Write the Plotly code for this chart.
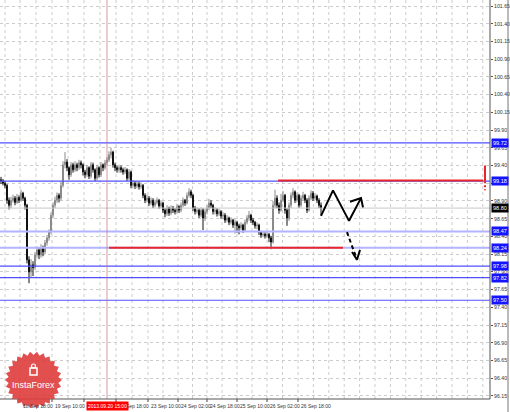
import math
import plotly.graph_objects as go

# hourly bars (oldest first)
close = [
    99.18, 99.15, 99.12, 98.91, 98.84, 98.91, 98.94, 98.88, 98.95, 98.91,
    99.01, 98.94, 98.84, 98.07, 97.90, 98.00, 97.96, 98.14, 98.21, 98.14,
    98.24, 98.18, 98.31, 98.38, 98.46, 98.70, 98.84, 98.91, 98.98, 98.94,
    99.12, 99.41, 99.45, 99.37, 99.27, 99.41, 99.34, 99.41, 99.37, 99.44,
    99.41, 99.31, 99.27, 99.37, 99.25, 99.41, 99.34, 99.22, 99.37, 99.27,
    99.41, 99.37, 99.44, 99.48, 99.55, 99.59, 99.41, 99.37, 99.34, 99.37,
    99.34, 99.31, 99.34, 99.22, 99.31, 99.12, 99.15, 99.11, 99.14, 99.10,
    99.12, 98.98, 98.91, 98.94, 98.87, 98.91, 98.84, 98.88, 98.91, 98.83,
    98.87, 98.77, 98.72, 98.80, 98.73, 98.80, 98.77, 98.75, 98.82, 98.77,
    98.84, 98.91, 98.87, 98.98, 99.03, 98.98, 98.80, 98.75, 98.77, 98.70,
    98.77, 98.66, 98.75, 98.80, 98.87, 98.84, 98.75, 98.77, 98.72, 98.75,
    98.69, 98.70, 98.63, 98.66, 98.60, 98.63, 98.56, 98.60, 98.55, 98.52,
    98.56, 98.49, 98.60, 98.66, 98.70, 98.63, 98.60, 98.55, 98.56, 98.46,
    98.42, 98.43, 98.41, 98.43, 98.38, 98.32, 98.84, 98.94, 98.84, 98.77,
    98.91, 98.98, 98.77, 98.66, 98.84, 98.98, 99.03, 98.91, 98.98, 98.84,
    98.94, 98.98, 98.91, 98.77, 98.94, 99.01, 98.94, 98.97, 98.91, 98.84,
    98.80,
]
high = [
    99.24, 99.21, 99.18, 99.14, 98.95, 98.96, 98.99, 98.97, 99.00, 98.98,
    99.06, 99.03, 98.96, 98.86, 98.12, 98.08, 98.05, 98.18, 98.26, 98.24,
    98.29, 98.27, 98.35, 98.42, 98.50, 98.74, 98.88, 98.96, 99.02, 99.01,
    99.17, 99.46, 99.59, 99.49, 99.39, 99.45, 99.44, 99.46, 99.44, 99.48,
    99.47, 99.43, 99.34, 99.41, 99.39, 99.45, 99.44, 99.36, 99.41, 99.39,
    99.45, 99.43, 99.48, 99.52, 99.60, 99.65, 99.61, 99.44, 99.40, 99.41,
    99.40, 99.37, 99.38, 99.36, 99.35, 99.33, 99.19, 99.18, 99.18, 99.17,
    99.16, 99.14, 99.01, 98.99, 98.97, 98.95, 98.94, 98.92, 98.95, 98.93,
    98.91, 98.89, 98.80, 98.84, 98.82, 98.84, 98.83, 98.80, 98.86, 98.84,
    98.88, 98.95, 98.93, 99.02, 99.08, 99.06, 99.00, 98.83, 98.81, 98.80,
    98.81, 98.80, 98.79, 98.84, 98.93, 98.91, 98.86, 98.81, 98.80, 98.79,
    98.77, 98.74, 98.73, 98.70, 98.68, 98.67, 98.65, 98.64, 98.62, 98.58,
    98.60, 98.58, 98.64, 98.70, 98.76, 98.72, 98.66, 98.62, 98.60, 98.58,
    98.48, 98.47, 98.46, 98.47, 98.45, 98.41, 98.90, 99.06, 98.98, 98.88,
    99.00, 99.04, 99.00, 98.80, 98.88, 99.02, 99.08, 99.05, 99.02, 99.00,
    98.98, 99.03, 99.00, 98.94, 98.98, 99.05, 99.04, 99.01, 98.99, 98.94,
    98.88,
]
low = [
    99.14, 99.12, 99.08, 98.86, 98.78, 98.80, 98.88, 98.84, 98.86, 98.87,
    98.89, 98.90, 98.78, 98.02, 97.74, 97.82, 97.84, 97.93, 98.10, 98.08,
    98.10, 98.12, 98.15, 98.27, 98.34, 98.43, 98.66, 98.80, 98.87, 98.88,
    98.91, 99.09, 99.36, 99.32, 99.20, 99.24, 99.30, 99.31, 99.32, 99.34,
    99.36, 99.26, 99.22, 99.24, 99.21, 99.22, 99.30, 99.18, 99.19, 99.23,
    99.24, 99.32, 99.34, 99.40, 99.45, 99.50, 99.37, 99.32, 99.30, 99.30,
    99.30, 99.27, 99.28, 99.18, 99.19, 99.08, 99.09, 99.07, 99.08, 99.06,
    99.07, 98.94, 98.87, 98.88, 98.83, 98.84, 98.80, 98.81, 98.85, 98.79,
    98.80, 98.73, 98.67, 98.69, 98.69, 98.70, 98.73, 98.71, 98.72, 98.73,
    98.74, 98.81, 98.83, 98.85, 98.95, 98.94, 98.76, 98.71, 98.72, 98.66,
    98.67, 98.49, 98.62, 98.71, 98.77, 98.80, 98.71, 98.71, 98.68, 98.69,
    98.65, 98.64, 98.59, 98.60, 98.56, 98.57, 98.52, 98.44, 98.45, 98.43,
    98.49, 98.45, 98.47, 98.57, 98.62, 98.59, 98.56, 98.51, 98.50, 98.42,
    98.38, 98.39, 98.37, 98.38, 98.32, 98.22, 98.30, 98.80, 98.80, 98.72,
    98.75, 98.88, 98.72, 98.55, 98.62, 98.80, 98.94, 98.87, 98.88, 98.80,
    98.81, 98.90, 98.87, 98.73, 98.75, 98.91, 98.90, 98.91, 98.87, 98.80,
    98.70,
]
first_open = 99.20
open_ = [first_open] + close[:-1]
bars = list(range(len(close)))

# horizontal levels drawn on the chart
strong_levels = [99.72, 99.18, 97.98, 97.82, 97.50]
weak_levels = [98.47, 98.24]
level_labels = ["99.72", "99.18", "98.47", "98.24", "97.98", "97.82", "97.50"]
level_values = [99.72, 99.18, 98.47, 98.24, 97.98, 97.82, 97.50]
current_price = 98.80

# red target lines: (price, from bar, to bar)
red_upper = (99.19, 138.5, 241)
red_lower = (98.24, 54, 171)
red_marker_bar = 242
red_marker_solid = [99.40, 99.18]
red_marker_dot = [99.18, 99.05]

# forecast zigzags
solid_x = [160, 166, 174, 180]
solid_y = [98.69, 99.05, 98.62, 98.94]
solid_head_x = [174.5, 180, 181]
solid_head_y = [98.89, 98.94, 98.81]
dash_x = [173, 178]
dash_y = [98.46, 98.07]
dash_head_x = [175.5, 178, 179.5]
dash_head_y = [98.18, 98.07, 98.21]

cursor_bar = 53
cursor_label = "2013.09.20 15:00"

# axes
price_ticks = [96.15, 96.40, 96.65, 96.90, 97.15, 97.40, 97.65, 97.90, 98.15,
               98.40, 98.65, 98.90, 99.15, 99.40, 99.65, 99.90, 100.15, 100.40,
               100.65, 100.90, 101.15, 101.40, 101.65]
time_pos = [-5.5, 9.5, 25.5, 41.5, 57.5, 73.5, 88.5, 103, 118, 133, 148.5]
time_labels = ["18 Sep 02:00", "18 Sep 18:00", "19 Sep 10:00", "20 Sep 02:00",
               "20 Sep 18:00", "23 Sep 10:00", "24 Sep 02:00", "24 Sep 18:00",
               "25 Sep 10:00", "26 Sep 02:00", "26 Sep 18:00"]

W, H = 510, 412
PW, PH = 490, 399
X_RANGE = [-0.5, 244.5]
FONT = "Liberation Sans"

fig = go.Figure()

# level lines as traces underneath the candles
fig.add_trace(go.Scatter(x=X_RANGE, y=[current_price] * 2, mode="lines",
                         line=dict(color="#c8c8c8", width=1), showlegend=False, hoverinfo="skip"))
for lv in weak_levels:
    fig.add_trace(go.Scatter(x=X_RANGE, y=[lv, lv], mode="lines",
                             line=dict(color="#b4b4ff", width=2), showlegend=False, hoverinfo="skip"))
for lv in strong_levels:
    fig.add_trace(go.Scatter(x=X_RANGE, y=[lv, lv], mode="lines",
                             line=dict(color="#5050ff", width=1.2), showlegend=False, hoverinfo="skip"))

fig.add_trace(go.Candlestick(
    x=bars, open=open_, high=high, low=low, close=close,
    increasing=dict(line=dict(color="#8a8a8a", width=1), fillcolor="#ffffff"),
    decreasing=dict(line=dict(color="#111111", width=1), fillcolor="#111111"),
    whiskerwidth=0, showlegend=False, hoverinfo="skip",
))

# forecast lines
fig.add_trace(go.Scatter(x=solid_x, y=solid_y, mode="lines",
                         line=dict(color="black", width=2), showlegend=False))
fig.add_trace(go.Scatter(x=solid_head_x, y=solid_head_y, mode="lines",
                         line=dict(color="black", width=2), showlegend=False))
fig.add_trace(go.Scatter(x=dash_x, y=dash_y, mode="lines",
                         line=dict(color="black", width=2, dash="4px,3px"), showlegend=False))
fig.add_trace(go.Scatter(x=dash_head_x, y=dash_head_y, mode="lines",
                         line=dict(color="black", width=2), showlegend=False))

# red lines
fig.add_trace(go.Scatter(x=[red_upper[1], red_upper[2]], y=[red_upper[0]] * 2, mode="lines",
                         line=dict(color="#e8262b", width=2), showlegend=False))
fig.add_trace(go.Scatter(x=[red_lower[1], red_lower[2]], y=[red_lower[0]] * 2, mode="lines",
                         line=dict(color="#e8262b", width=2), showlegend=False))
fig.add_trace(go.Scatter(x=[red_marker_bar] * 2, y=red_marker_solid, mode="lines",
                         line=dict(color="#e8262b", width=2), showlegend=False))
fig.add_trace(go.Scatter(x=[red_marker_bar] * 2, y=red_marker_dot, mode="lines",
                         line=dict(color="#e8262b", width=2, dash="2px,2px"), showlegend=False))

shapes = []
# grid verticals (between labelled ticks too)
grid_x = []
for i, p in enumerate(time_pos):
    grid_x.append(p)
    if i + 1 < len(time_pos):
        grid_x.append((p + time_pos[i + 1]) / 2)
p = time_pos[-1]
step = (time_pos[-1] - time_pos[0]) / (len(time_pos) - 1) / 2
while p + step < 244:
    p += step
    grid_x.append(p)
for gx in grid_x:
    shapes.append(dict(type="line", xref="x", yref="paper", x0=gx, x1=gx, y0=0, y1=1,
                       line=dict(color="#cccccc", width=1, dash="dot"), layer="below"))
# small ticks under time labels
for tx in time_pos:
    shapes.append(dict(type="line", xref="x", yref="paper", x0=tx, x1=tx, y0=0, y1=-3 / PH,
                       line=dict(color="#444", width=1)))
# cursor
shapes.append(dict(type="line", xref="x", yref="paper", x0=cursor_bar, x1=cursor_bar, y0=0, y1=1,
                   line=dict(color="rgba(200,110,120,0.7)", width=1)))
# window frame
shapes.append(dict(type="line", xref="paper", yref="paper", x0=0, x1=1, y0=0, y1=0,
                   line=dict(color="#555", width=1)))
shapes.append(dict(type="line", xref="paper", yref="paper", x0=1, x1=1, y0=0, y1=1,
                   line=dict(color="#555", width=1)))
shapes.append(dict(type="line", xref="paper", yref="paper", x0=508 / PW, x1=508 / PW,
                   y0=-13 / PH, y1=1, line=dict(color="#777", width=1)))

# logo star
cx, cy, r_out, r_in, spikes = 33.5, 380, 28.5, 25, 26
pts = []
for k in range(spikes * 2):
    a = math.pi * k / spikes
    r = r_out if k % 2 == 0 else r_in
    px = cx + r * math.cos(a)
    py = cy + r * math.sin(a)
    pts.append((px / PW, (PH - py) / PH))
path = "M " + " L ".join(f"{x:.4f},{y:.4f}" for x, y in pts) + " Z"
shapes.append(dict(type="path", xref="paper", yref="paper", path=path,
                   fillcolor="rgba(222,60,60,0.9)", line=dict(width=0)))
# small icon in logo
shapes.append(dict(type="rect", xref="paper", yref="paper",
                   x0=(cx - 3.5) / PW, x1=(cx + 3.5) / PW,
                   y0=(PH - 375) / PH, y1=(PH - 368) / PH,
                   line=dict(color="white", width=1.5), fillcolor="rgba(0,0,0,0)"))
shapes.append(dict(type="circle", xref="paper", yref="paper",
                   x0=(cx - 2) / PW, x1=(cx + 2) / PW,
                   y0=(PH - 368) / PH, y1=(PH - 364) / PH,
                   line=dict(color="white", width=1.2)))

annotations = []
for t, lbl in zip(time_pos, time_labels):
    annotations.append(dict(x=t, xref="x", y=-6.5 / PH, yref="paper", text=lbl,
                            showarrow=False, xanchor="left", yanchor="middle", xshift=1,
                            font=dict(size=5, color="#333", family=FONT)))
annotations.append(dict(x=cursor_bar, xref="x", y=-6.5 / PH, yref="paper", text=cursor_label,
                        showarrow=False, xanchor="center", yanchor="middle",
                        bgcolor="#ff0000", borderpad=1,
                        font=dict(size=5, color="white", family=FONT)))
for lv, lbl in zip(level_values, level_labels):
    annotations.append(dict(x=1, xref="paper", y=lv, yref="y", text=lbl, showarrow=False,
                            xanchor="left", yanchor="middle", xshift=1,
                            bgcolor="#1414ff", borderpad=1,
                            font=dict(size=5.5, color="white", family=FONT)))
annotations.append(dict(x=1, xref="paper", y=current_price, yref="y", text=f"{current_price:.2f}",
                        showarrow=False, xanchor="left", yanchor="middle", xshift=1,
                        bgcolor="#000000", borderpad=1,
                        font=dict(size=5.5, color="white", family=FONT)))
annotations.append(dict(x=cx / PW, xref="paper", y=(PH - 385) / PH, yref="paper",
                        text="InstaForex", showarrow=False,
                        xanchor="center", yanchor="middle",
                        font=dict(size=9, color="white", family=FONT)))

fig.update_layout(
    width=W, height=H,
    margin=dict(l=0, r=W - PW, t=0, b=H - PH, autoexpand=False),
    paper_bgcolor="white", plot_bgcolor="white",
    showlegend=False,
    shapes=shapes,
    annotations=annotations,
    xaxis=dict(range=X_RANGE, showgrid=False, showticklabels=False, zeroline=False,
               rangeslider=dict(visible=False), fixedrange=True),
    yaxis=dict(range=[96.107, 101.735], side="right", tickvals=price_ticks,
               ticktext=[f"{v:.2f}" for v in price_ticks],
               showgrid=True, gridcolor="#cccccc", griddash="dot", gridwidth=1,
               ticks="outside", ticklen=2, tickcolor="#555", ticklabelstandoff=0,
               tickfont=dict(size=5.2, color="#333", family=FONT),
               zeroline=False, fixedrange=True),
)

# page body has an 8px default margin; drop it so the chart sits at the corner
fig.write_html("out.html", config={"displayModeBar": False},
               post_script="document.body.style.margin='0';")
